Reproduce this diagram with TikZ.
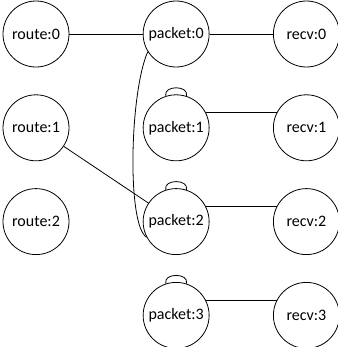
\documentclass[tikz,border=0pt]{standalone}
\usepackage{fontspec}
\setmainfont{Carlito}
\usetikzlibrary{positioning,calc}
\tikzset{
  nd/.style={draw,circle,minimum size=49.5pt,inner sep=0pt,font=\fontsize{12}{14}\selectfont},
}

\begin{document}
\begin{tikzpicture}[x=0.75pt,y=-0.75pt,line width=0.6pt]
  \useasboundingbox (0,0) rectangle (338,347);
  % left column
  \node[nd] (ro0) at (36,34) {route:0};
  \node[nd,below=20.25pt of ro0] (ro1) {route:1};
  \node[nd,below=20.25pt of ro1] (ro2) {route:2};
  % middle column
  \node[nd,right=55pt of ro0] (pk0) {packet:0};
  \node[nd,below=20.25pt of pk0] (pk1) {packet:1};
  \node[nd,below=20.25pt of pk1] (pk2) {packet:2};
  \node[nd,below=20.25pt of pk2] (pk3) {packet:3};
  % right column
  \node[nd,right=47.6pt of pk0] (rc0) {recv:0};
  \node[nd,below=20.25pt of rc0] (rc1) {recv:1};
  \node[nd,below=20.25pt of rc1] (rc2) {recv:2};
  \node[nd,below=20.25pt of rc2] (rc3) {recv:3};
  \draw (ro0) -- (pk0);
  \draw (pk0) -- (rc0);
  \draw (ro1) -- (pk2);
  \foreach \k in {1,2,3}{
    \draw (pk\k.27) -- (rc\k.153);
    \draw (pk\k.108) .. controls +(-3,-11) and +(3,-11) .. (pk\k.72);
  }
  \draw (pk0.212) .. controls +(-18,40) and +(-20,-12) .. (pk2.208);
\end{tikzpicture}
\end{document}
